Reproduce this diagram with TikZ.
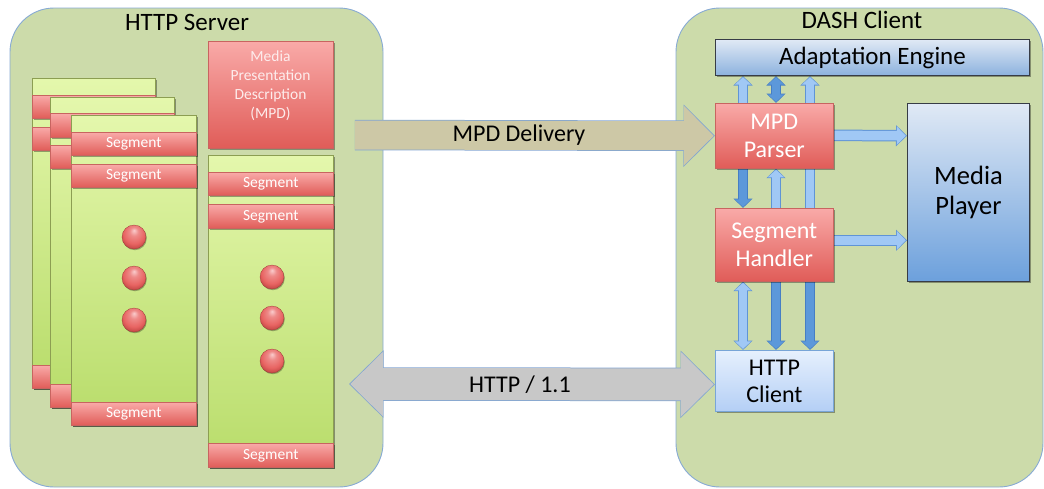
\documentclass[tikz,border=0pt]{standalone}
\usepackage{fontspec}
\setmainfont{Carlito}
\usetikzlibrary{arrows.meta,shadows,calc}

\definecolor{panelfill}{RGB}{204,219,170}
\definecolor{panelline}{RGB}{135,170,212}
\definecolor{pagetop}{RGB}{228,247,172}
\definecolor{pagebot}{RGB}{184,220,106}
\definecolor{pageline}{RGB}{140,158,82}
\definecolor{segtop}{RGB}{249,170,168}
\definecolor{segbot}{RGB}{224,92,88}
\definecolor{segline}{RGB}{200,100,96}
\definecolor{dotred}{RGB}{232,100,98}
\definecolor{dotlight}{RGB}{250,205,205}
\definecolor{dotdark}{RGB}{196,72,70}
\definecolor{tanfill}{RGB}{205,200,166}
\definecolor{grayfill}{RGB}{200,200,200}
\definecolor{bigline}{RGB}{130,165,210}
\definecolor{bluetop}{RGB}{224,233,245}
\definecolor{bluebot}{RGB}{140,178,222}
\definecolor{playerbot}{RGB}{108,160,220}
\definecolor{darkline}{RGB}{55,60,70}
\definecolor{clienttop}{RGB}{230,240,253}
\definecolor{clientbot}{RGB}{180,207,245}
\definecolor{clientline}{RGB}{120,165,215}
\definecolor{lightarr}{RGB}{160,200,245}
\definecolor{lightarrline}{RGB}{95,148,214}
\definecolor{darkarr}{RGB}{92,152,218}
\definecolor{darkarrline}{RGB}{70,126,196}
\definecolor{paletext}{RGB}{253,236,236}

% glossy red bead, lit from above
\pgfdeclareradialshading{bead}{\pgfpoint{0bp}{14bp}}{%
  color(0bp)=(dotlight); color(9bp)=(dotred!75!white); color(22bp)=(dotred);
  color(30bp)=(dotdark); color(50bp)=(dotdark)}

\pgfdeclarelayer{back}
\pgfdeclarelayer{conn}
\pgfsetlayers{back,conn,main}

\tikzset{
  wh/.style 2 args={minimum width=#1pt, minimum height=#2pt},
  panel/.style={draw=panelline, line width=0.9pt, fill=panelfill, rounded corners=44pt},
  title/.style={font=\fontsize{25}{28}\selectfont},
  softshadow/.style={drop shadow={shadow xshift=1.2pt, shadow yshift=-1.6pt, opacity=0.35, fill=black}},
  page/.style={draw=pageline, line width=0.6pt, top color=pagetop, bottom color=pagebot,
    inner sep=0pt, anchor=north west, softshadow},
  seg/.style={draw=segline, line width=0.6pt, top color=segtop, bottom color=segbot,
    inner sep=0pt, anchor=north west, text=white, font=\fontsize{15.5}{15.5}\selectfont, softshadow},
  dot/.style={circle, minimum size=24pt, inner sep=0pt, shading=bead, draw=dotdark!80!black, line width=0.3pt,
    drop shadow={shadow xshift=0.8pt, shadow yshift=-1.2pt, opacity=0.3, fill=black}},
  redbox/.style={draw=segline, line width=0.6pt, top color=segtop, bottom color=segbot,
    inner sep=0pt, anchor=north west, text=paletext, align=center, softshadow},
  engine/.style={draw=darkline, line width=1pt, top color=bluetop, bottom color=bluebot,
    inner sep=0pt, anchor=north west, align=center, softshadow},
  player/.style={draw=darkline, line width=1pt, top color=bluetop, bottom color=playerbot,
    inner sep=0pt, anchor=north west, align=center, softshadow},
  client/.style={draw=clientline, line width=0.8pt, top color=clienttop, bottom color=clientbot,
    inner sep=0pt, anchor=north west, align=center, softshadow},
  bigtext/.style={font=\fontsize{24}{28}\selectfont},
  % thin block arrows between the client modules
  larrow/.style={line width=8.5pt, draw=lightarr, -{Triangle[length=7.5pt,width=16pt]}, shorten >=1.2pt,
    preaction={draw=lightarrline, line width=10.5pt, shorten >=0pt, -{Triangle[length=9.5pt,width=18.5pt]}}},
  ldarrow/.style={line width=8.5pt, draw=lightarr, {Triangle[length=7.5pt,width=16pt]}-{Triangle[length=7.5pt,width=16pt]},
    shorten >=1.2pt, shorten <=1.2pt,
    preaction={draw=lightarrline, line width=10.5pt, shorten >=0pt, shorten <=0pt,
      {Triangle[length=9.5pt,width=18.5pt]}-{Triangle[length=9.5pt,width=18.5pt]}}},
  darrow/.style={line width=8.5pt, draw=darkarr, -{Triangle[length=7.5pt,width=16pt]}, shorten >=1.2pt,
    preaction={draw=darkarrline, line width=10.5pt, shorten >=0pt, -{Triangle[length=9.5pt,width=18.5pt]}}},
  ddarrow/.style={line width=8.5pt, draw=darkarr, {Triangle[length=7.5pt,width=16pt]}-{Triangle[length=7.5pt,width=16pt]},
    shorten >=1.2pt, shorten <=1.2pt,
    preaction={draw=darkarrline, line width=10.5pt, shorten >=0pt, shorten <=0pt,
      {Triangle[length=9.5pt,width=18.5pt]}-{Triangle[length=9.5pt,width=18.5pt]}}},
  harrow/.style={line width=9.5pt, draw=lightarr, -{Triangle[length=9pt,width=18pt]}, shorten >=1.2pt,
    preaction={draw=lightarrline, line width=11.5pt, shorten >=0pt, -{Triangle[length=11pt,width=20.5pt]}}},
  % wide block arrows crossing the network gap
  deliver/.style={line width=29pt, draw=tanfill, -{Triangle[length=30pt,width=58pt]}, shorten >=1.2pt, shorten <=0.8pt,
    preaction={draw=bigline, line width=30.5pt, shorten >=0pt, -{Triangle[length=31.5pt,width=60.5pt]}}},
  transfer/.style={line width=32pt, draw=grayfill,
    {Triangle[length=33pt,width=63pt]}-{Triangle[length=33pt,width=63pt]}, shorten >=1.2pt, shorten <=1.2pt,
    preaction={draw=bigline, line width=33.5pt, shorten >=0pt, shorten <=0pt,
      {Triangle[length=34.5pt,width=65.5pt]}-{Triangle[length=34.5pt,width=65.5pt]}}},
}

\begin{document}
\begin{tikzpicture}[x=1pt, y=-1pt]
\useasboundingbox (0,0) rectangle (1044,488);

% ---------- containers ----------
\begin{pgfonlayer}{back}
  \draw[panel] (10,8) rectangle (383,487);
  \draw[panel] (676,8) rectangle (1043,487);
\end{pgfonlayer}
\node[title] (srvtitle) at (187,22) {HTTP Server};
\node[title] (clititle) at (862,20) {DASH Client};

% ---------- server: stacked representations ----------
\node[page, wh={123}{310}] (p1) at (32,78) {};
\node[seg, wh={123}{23}] (p1a) at (32,95) {};
\node[seg, wh={123}{23}] (p1b) at (32,127) {};
\node[seg, wh={123}{23}] (p1z) at (32,365) {};

\node[page, wh={124}{310}] (p2) at (50,97) {};
\node[seg, wh={124}{24}] (p2a) at (50,113) {};
\node[seg, wh={124}{23}] (p2b) at (50,145) {};
\node[seg, wh={124}{23}] (p2z) at (50,384) {};

\node[page, wh={125}{310}] (p3) at (71,115) {};
\node[seg, wh={125}{23}] (p3a) at (71,132) {Segment};
\node[seg, wh={125}{23}] (p3b) at (71,164) {Segment};
\node[seg, wh={125}{23}] (p3z) at (71,402) {Segment};
\node[dot] (d31) at (134,237) {};
\node[dot] (d32) at (134,278) {};
\node[dot] (d33) at (134,320) {};

% ---------- server: MPD and its representation ----------
\node[redbox, wh={125}{107}] (mpd) at (208,41) {};
\node[text=paletext, align=center, font=\fontsize{15.5}{19}\selectfont] (mpdtext) at (270.5,86)
  {Media\\Presentation\\Description\\(MPD)};

\node[page, wh={125}{312}] (col) at (208,155) {};
\node[seg, wh={125}{23}] (cola) at (208,172) {Segment};
\node[seg, wh={125}{24}] (colb) at (208,204) {Segment};
\node[seg, wh={125}{24}] (colz) at (208,443) {Segment};
\node[dot] (dc1) at (272,277) {};
\node[dot] (dc2) at (272,318) {};
\node[dot] (dc3) at (272,361) {};

% ---------- client modules ----------
\node[engine, wh={314}{36}, font=\fontsize{25}{28}\selectfont] (ae) at (715,39) {Adaptation Engine};
\node[redbox, wh={118}{65}, font=\fontsize{24}{28}\selectfont, text=white] (pp) at (715,103) {MPD\\Parser};
\node[redbox, wh={118}{73}, font=\fontsize{24}{28}\selectfont, text=white] (sh) at (715,208) {Segment\\Handler};
\node[client, wh={118}{61}, font=\fontsize{24}{27}\selectfont] (hc) at (715,350) {HTTP\\Client};
\node[player, wh={122}{178}, font=\fontsize{26.5}{30}\selectfont] (mp) at (907,103) {Media\\Player};

% ---------- connectors ----------
\coordinate (mdstart) at (354,135);
\coordinate (htstart) at (349,384);
\begin{pgfonlayer}{conn}
  % network transfers
  \draw[deliver] (mdstart) -- (pp.west)
    node[pos=0.457, text=black, bigtext] (mdlabel) {MPD Delivery};
  \draw[transfer] (htstart) -- ($(hc.west)+(0,3.5)$)
    node[pos=0.467, text=black, bigtext] (htlabel) {HTTP / 1.1};

  % parser <-> engine
  \draw[larrow]  ($(pp.north west)+(28,0)$) -- ($(ae.south west)+(28,0)$);
  \draw[ddarrow] ($(pp.north west)+(61,0)$) -- ($(ae.south west)+(61,0)$);
  % handler -> engine, passing behind the parser
  \draw[larrow]  ($(sh.north west)+(95,0)$) -- ($(ae.south west)+(95,0)$);

  % parser <-> handler
  \draw[darrow] ($(pp.south west)+(28,0)$) -- ($(sh.north west)+(28,0)$);
  \draw[larrow] ($(sh.north west)+(61,0)$) -- ($(pp.south west)+(61,0)$);

  % handler <-> HTTP client
  \draw[ldarrow] ($(sh.south west)+(28,0)$) -- ($(hc.north west)+(28,0)$);
  \draw[darrow]  ($(sh.south west)+(61,0)$) -- ($(hc.north west)+(61,0)$);
  \draw[darrow]  ($(sh.south west)+(95,0)$) -- ($(hc.north west)+(95,0)$);

  % to the media player
  \draw[harrow] ($(pp.east)+(0,-0.5)$) -- (pp.east -| mp.west);
  \draw[harrow] ($(sh.east)+(0,-4.5)$) -- ($(sh.east -| mp.west)+(0,-4.5)$);
\end{pgfonlayer}
\end{tikzpicture}
\end{document}
